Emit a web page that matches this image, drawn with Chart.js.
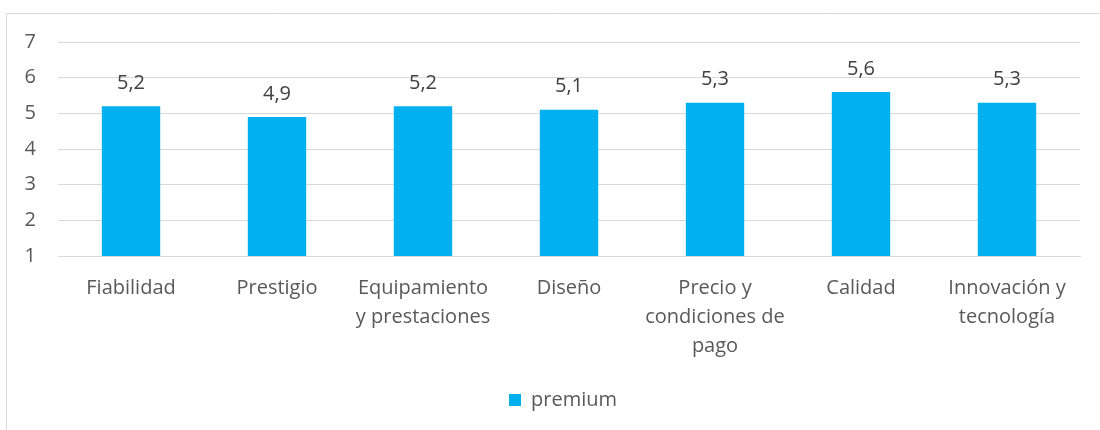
<!DOCTYPE html>
<html>
<head>
<meta charset="utf-8">
<script src="https://cdn.jsdelivr.net/npm/chart.js@4"></script>
<style>
  html, body { margin: 0; padding: 0; background: #fff; }
  #wrap { position: relative; width: 1100px; height: 430px; }
</style>
</head>
<body>
<div id="wrap"><canvas id="chart" width="1100" height="430"></canvas></div>
<script>
const categories = [
  'Fiabilidad',
  'Prestigio',
  ['Equipamiento', 'y prestaciones'],
  'Diseño',
  ['Precio y', 'condiciones de', 'pago'],
  'Calidad',
  ['Innovación y', 'tecnología']
];
const premium = [5.2, 4.9, 5.2, 5.1, 5.3, 5.6, 5.3];
const yTicks = [1, 2, 3, 4, 5, 6, 7];

const FONT = '"Open Sans", "Liberation Sans", sans-serif';

// light frame on the left and top, like the original chart area border
const framePlugin = {
  id: 'frame',
  beforeDraw(chart) {
    const ctx = chart.ctx;
    ctx.save();
    ctx.strokeStyle = '#d9d9d9';
    ctx.lineWidth = 1;
    ctx.beginPath();
    ctx.moveTo(6.5, 430);
    ctx.lineTo(6.5, 13.5);
    ctx.lineTo(1100, 13.5);
    ctx.stroke();
    ctx.restore();
  }
};

// the legend sits a bit right of the canvas centre in the original
const legendShift = {
  id: 'legendShift',
  afterLayout(chart) {
    const lg = chart.legend;
    if (!lg) return;
    lg.left += 23;
    lg.right += 23;
    lg.top -= 2;
    lg.bottom -= 2;
  }
};

// values above the bars, with a decimal comma
const valueLabels = {
  id: 'valueLabels',
  afterDatasetsDraw(chart) {
    const ctx = chart.ctx;
    const meta = chart.getDatasetMeta(0);
    ctx.save();
    ctx.font = '20px ' + FONT;
    ctx.fillStyle = '#404040';
    ctx.textAlign = 'center';
    ctx.textBaseline = 'middle';
    meta.data.forEach((bar, i) => {
      const txt = premium[i].toFixed(1).replace('.', ',');
      ctx.fillText(txt, bar.x, bar.y - 23);
    });
    ctx.restore();
  }
};

new Chart(document.getElementById('chart'), {
  type: 'bar',
  data: {
    labels: categories,
    datasets: [{
      label: 'premium',
      data: premium,
      backgroundColor: '#00b0f0',
      borderWidth: 0,
      categoryPercentage: 1,
      barPercentage: 0.4
    }]
  },
  options: {
    responsive: false,
    animation: false,
    layout: { padding: { top: 42, right: 20, left: 0, bottom: 8 } },
    plugins: {
      legend: {
        position: 'bottom',
        labels: {
          font: { family: FONT, size: 20 },
          color: '#595959',
          boxWidth: 12,
          boxHeight: 12,
          padding: 6
        }
      },
      tooltip: { enabled: false }
    },
    scales: {
      x: {
        grid: { display: false, drawTicks: false },
        border: { color: '#d9d9d9', width: 1 },
        ticks: {
          font: { family: FONT, size: 20, lineHeight: 1.45 },
          color: '#595959',
          padding: 18,
          maxRotation: 0,
          autoSkip: false
        },
        afterFit(scale) { scale.height = 130; }
      },
      y: {
        min: 1,
        max: 7,
        afterBuildTicks(scale) { scale.ticks = yTicks.map(v => ({ value: v })); },
        grid: { color: '#d9d9d9', drawTicks: false },
        border: { display: false },
        ticks: {
          font: { family: FONT, size: 20 },
          color: '#595959',
          padding: 22
        },
        afterFit(scale) { scale.width = 58; }
      }
    }
  },
  plugins: [framePlugin, legendShift, valueLabels]
});
</script>
</body>
</html>
